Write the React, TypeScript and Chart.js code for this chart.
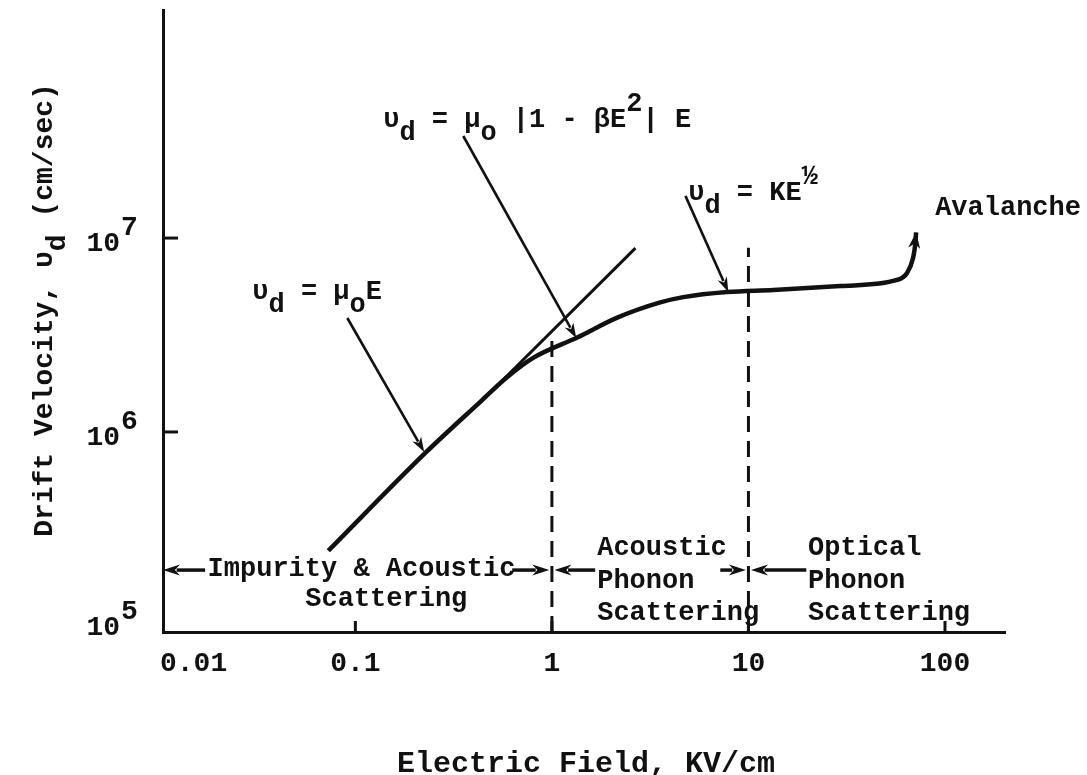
import { useEffect, useRef } from "react";
import { Chart, registerables } from "chart.js";

Chart.register(...registerables);

// ---------- data ----------
const curveField = [0.0728, 0.227, 0.432, 0.593, 0.803, 1.345, 2.15, 3.56, 4.66, 7.8, 13.4, 29.3, 57.0, 64.1, 68.8, 70.5, 71.3];
const curveVelocity = [2.44e5, 7.8e5, 1.43e6, 1.92e6, 2.41e6, 3.07e6, 3.89e6, 4.66e6, 4.96e6, 5.27e6, 5.4e6, 5.66e6, 6.08e6, 6.61e6, 7.89e6, 9.2e6, 1.07e7];
const ohmicField = [0.432, 2.66];
const ohmicVelocity = [1.42e6, 8.88e6];
const boundaryField = [1, 10];
const boundaryTop = [3.16e6, 8.9e6];
const xTickValues = [0.01, 0.1, 1, 10, 100];
const xTickLabels = ["0.01", "0.1", "1", "10", "100"];
const yTickValues = [1e5, 1e6, 1e7];
const yTickExponents = ["5", "6", "7"];
const xRange = [0.0105, 202];
const yRange = [9.3e4, 1.5e8];

const xTitle = "Electric Field, KV/cm";
const yTitleRuns: [string, string][] = [["Drift Velocity, υ", "n"], ["d", "sub"], [" (cm/sec)", "n"]];

const formulaRuns: [string, string][][] = [
  [["υ", "n"], ["d", "sub"], [" = μ", "n"], ["o", "sub"], ["E", "n"]],
  [["υ", "n"], ["d", "sub"], [" = μ", "n"], ["o", "sub"], [" |1 - βE", "n"], ["2", "sup"], ["| E", "n"]],
  [["υ", "n"], ["d", "sub"], [" = KE", "n"], ["½", "sup"]],
];
const formulaAnchorField = [0.0299, 0.1386, 4.94];
const formulaAnchorVelocity = [4.85e6, 3.73e7, 1.57e7];
const pointerFromField = [0.091, 0.354, 4.78];
const pointerFromVelocity = [3.87e6, 3.36e7, 1.65e7];
const pointerToField = [0.224, 1.33, 7.9];
const pointerToVelocity = [7.89e5, 3.05e6, 5.27e6];

const regionTexts = ["Impurity & Acoustic", "Scattering", "Acoustic", "Phonon", "Scattering", "Optical", "Phonon", "Scattering", "Avalanche"];
const regionTextField = [0.0177, 0.0556, 1.7, 1.7, 1.7, 20.1, 20.1, 20.1, 89.1];
const regionTextVelocity = [1.81e5, 1.27e5, 2.32e5, 1.57e5, 1.07e5, 2.32e5, 1.57e5, 1.07e5, 1.31e7];
const regionArrowVelocity = 1.94e5;
const regionArrowTail = [0.0172, 0.628, 1.66, 7.19, 19.7];
const regionArrowTip = [0.0105, 0.97, 1.03, 9.7, 10.3];

// ---------- styles ----------
const FONT = '"Liberation Mono", "Courier New", "DejaVu Sans Mono", monospace';
const TXT = `bold 27px ${FONT}`;
const TICKTXT = `bold 28px ${FONT}`;
const TITLETXT = `bold 28px ${FONT}`;
const XTITLETXT = `bold 30px ${FONT}`;
const SHIFT: Record<string, number> = { n: 0, sub: 13, sup: -16 };
const INK = "#111";

function drawRuns(ctx: CanvasRenderingContext2D, runs: [string, string][], x: number, y: number) {
  let cx = x;
  for (const [t, k] of runs) {
    ctx.fillText(t, cx, y + SHIFT[k]);
    cx += ctx.measureText(t).width;
  }
  return cx - x;
}

function runsWidth(ctx: CanvasRenderingContext2D, runs: [string, string][]) {
  let w = 0;
  for (const [t] of runs) w += ctx.measureText(t).width;
  return w;
}

function arrow(ctx: CanvasRenderingContext2D, x1: number, y1: number, x2: number, y2: number, lw: number, hl: number, hw: number) {
  const a = Math.atan2(y2 - y1, x2 - x1);
  const bx = x2 - Math.cos(a) * hl * 0.8;
  const by = y2 - Math.sin(a) * hl * 0.8;
  ctx.lineWidth = lw;
  ctx.beginPath();
  ctx.moveTo(x1, y1);
  ctx.lineTo(bx, by);
  ctx.stroke();
  arrowHead(ctx, x2, y2, a, hl, hw);
}

function arrowHead(ctx: CanvasRenderingContext2D, x: number, y: number, a: number, hl: number, hw: number) {
  const c = Math.cos(a), s = Math.sin(a);
  ctx.beginPath();
  ctx.moveTo(x, y);
  ctx.lineTo(x - c * hl - s * hw, y - s * hl + c * hw);
  ctx.lineTo(x - c * hl * 0.7, y - s * hl * 0.7);
  ctx.lineTo(x - c * hl + s * hw, y - s * hl - c * hw);
  ctx.closePath();
  ctx.fill();
}

const figurePlugin = {
  id: "figureMarks",
  afterDatasetsDraw(chart: any) {
    const { ctx, chartArea } = chart;
    const xs = chart.scales.x;
    const ys = chart.scales.y;
    const px = (v: number) => xs.getPixelForValue(v);
    const py = (v: number) => ys.getPixelForValue(v);
    ctx.save();
    ctx.strokeStyle = INK;
    ctx.fillStyle = INK;
    ctx.lineCap = "butt";

    // inward tick marks
    ctx.lineWidth = 3;
    for (const v of xTickValues) {
      const p = px(v);
      if (p <= chartArea.left + 2) continue;
      ctx.beginPath();
      ctx.moveTo(p, chartArea.bottom);
      ctx.lineTo(p, chartArea.bottom - 11);
      ctx.stroke();
    }
    for (const v of yTickValues) {
      const p = py(v);
      if (p >= chartArea.bottom - 10) continue;
      ctx.beginPath();
      ctx.moveTo(chartArea.left, p);
      ctx.lineTo(chartArea.left + 15, p);
      ctx.stroke();
    }

    // x tick labels
    ctx.font = TICKTXT;
    ctx.textBaseline = "alphabetic";
    xTickValues.forEach((v, i) => {
      const p = px(v);
      if (p < chartArea.left) {
        ctx.textAlign = "left";
        ctx.fillText(xTickLabels[i], chartArea.left - 3, chartArea.bottom + 39);
      } else {
        ctx.textAlign = "center";
        ctx.fillText(xTickLabels[i], p, chartArea.bottom + 39);
      }
    });
    // y tick labels 10^n
    yTickValues.forEach((v, i) => {
      const base = Math.min(py(v) + 13, chartArea.bottom + 3);
      ctx.textAlign = "right";
      ctx.fillText("10", chartArea.left - 43, base);
      ctx.textAlign = "left";
      ctx.fillText(yTickExponents[i], chartArea.left - 42, base - 16);
    });

    // axis titles
    ctx.font = XTITLETXT;
    ctx.textAlign = "center";
    ctx.fillText(xTitle, (chartArea.left + chartArea.right) / 2 + 2, chartArea.bottom + 140);
    ctx.font = TITLETXT;
    ctx.textAlign = "left";
    ctx.save();
    ctx.translate(chartArea.left - 111, (chartArea.top + chartArea.bottom) / 2 - 11);
    ctx.rotate(-Math.PI / 2);
    const tw = runsWidth(ctx, yTitleRuns);
    drawRuns(ctx, yTitleRuns, -tw / 2, 0);
    ctx.restore();

    // formulas and pointers
    ctx.font = TXT;
    ctx.textAlign = "left";
    formulaRuns.forEach((runs, i) => {
      drawRuns(ctx, runs, px(formulaAnchorField[i]), py(formulaAnchorVelocity[i]));
      arrow(ctx, px(pointerFromField[i]), py(pointerFromVelocity[i]), px(pointerToField[i]), py(pointerToVelocity[i]), 2.6, 15, 5);
    });

    // region labels
    regionTexts.forEach((t, i) => {
      ctx.fillText(t, px(regionTextField[i]), py(regionTextVelocity[i]));
    });
    const ay = py(regionArrowVelocity);
    regionArrowTail.forEach((tail, i) => {
      arrow(ctx, px(tail), ay, px(regionArrowTip[i]), ay, 3.5, 17, 5.5);
    });

    // avalanche arrow head at the end of the curve
    const n = curveField.length;
    const x2 = px(curveField[n - 1]), y2 = py(curveVelocity[n - 1]);
    const x1 = px(curveField[n - 3]), y1 = py(curveVelocity[n - 3]);
    arrowHead(ctx, x2, y2, Math.atan2(y2 - y1, x2 - x1), 16, 6);

    ctx.restore();
  },
};

export default function App() {
  const ref = useRef<HTMLCanvasElement>(null);
  useEffect(() => {
    if (!ref.current) return;
    const toPts = (xs: number[], ys: number[]) => xs.map((x, i) => ({ x, y: ys[i] }));
    const chart = new Chart(ref.current, {
      type: "line",
      data: {
        datasets: [
          {
            label: "drift velocity",
            data: toPts(curveField, curveVelocity),
            borderColor: INK,
            borderWidth: 4.5,
            pointRadius: 0,
            cubicInterpolationMode: "monotone",
            fill: false,
          },
          {
            label: "μoE",
            data: toPts(ohmicField, ohmicVelocity),
            borderColor: INK,
            borderWidth: 3,
            pointRadius: 0,
            fill: false,
          },
          ...boundaryField.map((f, i) => ({
            label: "boundary " + f,
            data: [
              { x: f, y: yRange[0] },
              { x: f, y: boundaryTop[i] },
            ],
            borderColor: INK,
            borderWidth: 3,
            borderDash: [16, 9],
            pointRadius: 0,
            fill: false,
          })),
        ],
      },
      options: {
        animation: false,
        responsive: false,
        events: [],
        layout: { padding: { top: 10, right: 82, left: 0, bottom: 0 } },
        plugins: { legend: { display: false }, tooltip: { enabled: false }, title: { display: false } },
        scales: {
          x: {
            type: "logarithmic",
            min: xRange[0],
            max: xRange[1],
            grid: { display: false },
            border: { display: true, color: INK, width: 3 },
            ticks: { display: false },
            afterFit: (s: any) => {
              s.height = 143;
            },
          },
          y: {
            type: "logarithmic",
            min: yRange[0],
            max: yRange[1],
            grid: { display: false },
            border: { display: true, color: INK, width: 3 },
            ticks: { display: false },
            afterFit: (s: any) => {
              s.width = 163;
            },
          },
        },
      } as any,
      plugins: [figurePlugin],
    });
    return () => chart.destroy();
  }, []);
  return (
    <div style={{ position: "fixed", left: 0, top: 0, width: 1087, height: 775, background: "#fff" }}>
      <canvas ref={ref} width={1087} height={775} style={{ display: "block" }} />
    </div>
  );
}
